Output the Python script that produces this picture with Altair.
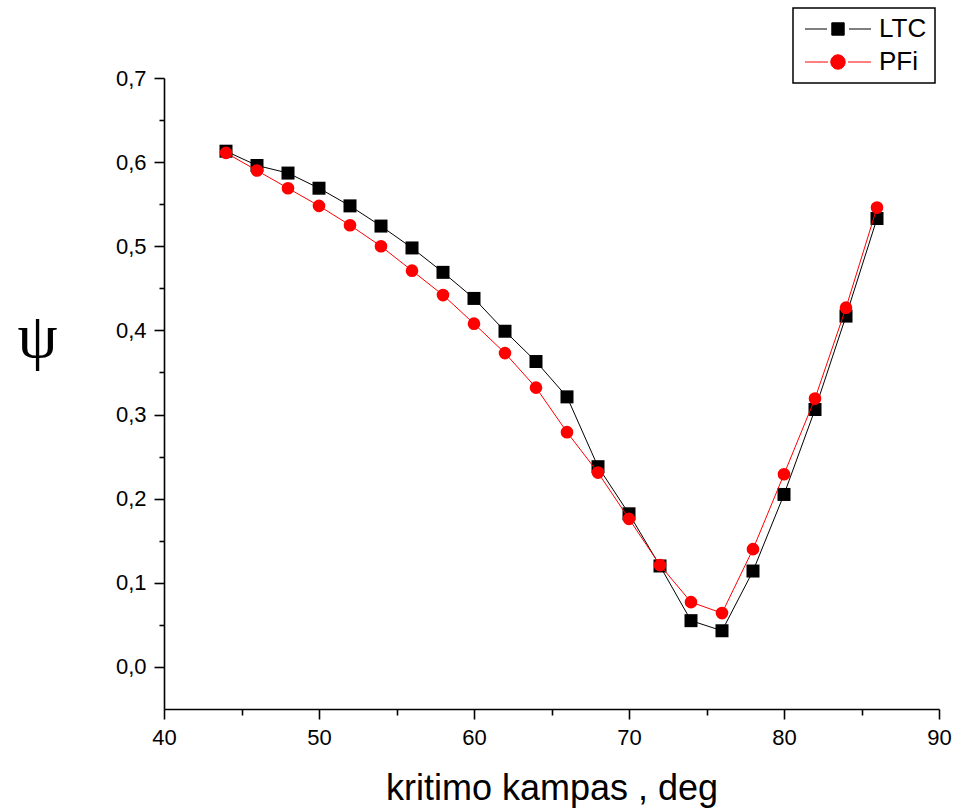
import altair as alt
import pandas as pd

angles = [44, 46, 48, 50, 52, 54, 56, 58, 60, 62, 64, 66, 68, 70, 72, 74, 76, 78, 80, 82, 84, 86]
ltc = [0.613, 0.596, 0.587, 0.569, 0.548, 0.524, 0.498, 0.469, 0.438, 0.399, 0.363,
       0.321, 0.238, 0.182, 0.120, 0.055, 0.043, 0.114, 0.205, 0.306, 0.417, 0.533]
pfi = [0.611, 0.590, 0.569, 0.548, 0.525, 0.500, 0.471, 0.442, 0.408, 0.373, 0.332,
       0.279, 0.231, 0.176, 0.121, 0.077, 0.064, 0.140, 0.229, 0.319, 0.427, 0.546]
series_names = ["LTC", "PFi"]
series_colors = ["#000000", "#ff0000"]

df = pd.DataFrame({
    "x": angles * 2,
    "y": ltc + pfi,
    "series": ["LTC"] * len(angles) + ["PFi"] * len(angles),
})

FONT = "Liberation Sans"

x_enc = alt.X("x:Q", scale=alt.Scale(domain=[40, 90], nice=False, zero=False),
              axis=alt.Axis(
                  values=[40, 45, 50, 55, 60, 65, 70, 75, 80, 85, 90],
                  labelExpr="datum.value % 10 === 0 ? datum.label : ''",
                  tickSize={"condition": {"test": "datum.value % 10 === 0", "value": 10}, "value": 6},
                  title="kritimo kampas , deg",
                  titleFontSize=36, titleFontWeight="normal", titleFont=FONT, titleColor="black",
                  titlePadding=23,
                  labelFontSize=22, labelFont=FONT, labelColor="black", labelPadding=8,
                  labelOverlap=False, labelFlush=False, grid=False,
                  domainColor="black", domainWidth=1.6, tickColor="black", tickWidth=1.6,
              ))

y_enc = alt.Y("y:Q", scale=alt.Scale(domain=[-0.05, 0.7], nice=False, zero=False),
              axis=alt.Axis(
                  values=[0, 0.05, 0.1, 0.15, 0.2, 0.25, 0.3, 0.35, 0.4, 0.45, 0.5, 0.55, 0.6, 0.65, 0.7],
                  labelExpr="round(datum.value*100) % 10 === 0 ? replace(format(datum.value, '.1f'), '.', ',') : ''",
                  tickSize={"condition": {"test": "round(datum.value*100) % 10 === 0", "value": 10}, "value": 5},
                  title="ψ", titleAngle=0, titleFontSize=64, titleFont="Liberation Serif",
                  titleFontWeight="normal", titleColor="black",
                  titleX=-127, titleY=259, titleAlign="center", titleBaseline="middle",
                  labelFontSize=22, labelFont=FONT, labelColor="black", labelPadding=8,
                  labelOverlap=False, labelFlush=False, grid=False,
                  domainColor="black", domainWidth=1.6, tickColor="black", tickWidth=1.6,
              ))

base = alt.Chart(df)

layers = []
for name, col, shp, sz in [("LTC", "#000000", "square", 169), ("PFi", "#ff0000", "circle", 160)]:
    sub = base.transform_filter(alt.datum.series == name)
    layers.append(sub.mark_line(color=col, strokeWidth=1).encode(x=x_enc, y=y_enc))
    layers.append(sub.mark_point(filled=True, shape=shp, size=sz, color=col, opacity=1)
                  .encode(x=x_enc, y=y_enc))

path_ltc = "M -3.3 0 L -1.1 0 M -0.62 -0.62 L 0.62 -0.62 L 0.62 0.62 L -0.62 0.62 Z M 1.1 0 L 3.3 0"
path_pfi = ("M -3.3 0 L -1.0 0 M -0.72 0 A 0.72 0.72 0 1 0 0.72 0 "
            "A 0.72 0.72 0 1 0 -0.72 0 Z M 1.0 0 L 3.3 0")

legend = alt.Legend(
    title=None, orient="none", legendX=629, legendY=-70,
    labelFontSize=26, labelFont=FONT, labelColor="black",
    symbolSize=400, symbolStrokeWidth=1, symbolOffset=24, labelOffset=28,
    rowPadding=7, padding=8, strokeColor="black", fillColor="white",
    cornerRadius=0,
)

legend_layer = base.transform_filter("datum.x < 0").mark_point(filled=True, strokeWidth=1, opacity=1).encode(
    x=x_enc, y=y_enc,
    fill=alt.Fill("series:N", scale=alt.Scale(domain=series_names, range=series_colors), legend=legend),
    stroke=alt.Stroke("series:N", scale=alt.Scale(domain=series_names, range=series_colors), legend=legend),
    shape=alt.Shape("series:N", scale=alt.Scale(domain=series_names, range=[path_ltc, path_pfi]), legend=legend),
)

chart = alt.layer(*layers, legend_layer).properties(
    width=775, height=631,
    autosize=alt.AutoSizeParams(type="none"),
    padding={"left": 164, "top": 78, "right": 17, "bottom": 102},
    background="white",
).configure_view(stroke=None).configure_legend(strokeWidth=1.5)

chart.save("out.html", embed_options={"renderer": "svg", "actions": False})
